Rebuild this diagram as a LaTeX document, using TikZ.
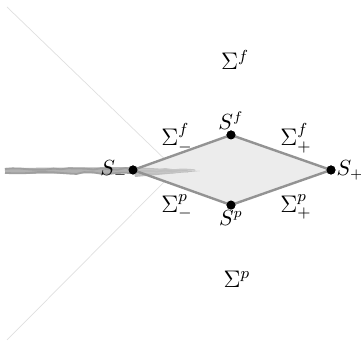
\documentclass[tikz,border=0pt]{standalone}
\usepackage{amsmath,amssymb}
\usetikzlibrary{positioning,decorations.pathmorphing}

\begin{document}
\begin{tikzpicture}[
    x=0.5pt, y=-0.5pt,
    every node/.style={font=\fontsize{10.5}{12}\selectfont, inner sep=1pt},
    dot/.style={circle, fill=black, inner sep=0pt, minimum size=4.5pt},
    lbl/.style={inner sep=0.2pt},
    sig/.style={font=\fontsize{12}{14}\selectfont},
    edge/.style={draw=gray!85, line width=1.2pt},
    ray/.style={draw=gray!25, line width=0.35pt},
    band/.style={draw=gray!75, line width=0.9pt, decorate,
                 decoration={random steps, segment length=4pt, amplitude=0.5pt}}
]
  \useasboundingbox (0,0) rectangle (361,347);

  % guide rays
  \coordinate (rtop) at (7,7);
  \coordinate (rbot) at (7,340);
  \coordinate (cross) at (176,170);
  \draw[ray] (rtop) -- (cross) -- (rbot);

  % corners of the region
  \node[dot] (sm) at (133,170) {};
  \node[dot] (sf) at (231,135) {};
  \node[dot] (sp) at (231,205) {};
  \node[dot] (sq) at (331,170) {};

  \fill[gray!15] (sm.center) -- (sf.center) -- (sq.center) -- (sp.center) -- cycle;

  % grey band along the axis
  \coordinate (bl) at (5,171);
  \coordinate (btip) at (200,171);
  \draw[gray!60, line width=3pt] (bl) -- (sm.center);
  \draw[band] (5,169) -- (130,169);
  \draw[band] (5,173) -- (130,173);
  \fill[gray!50] (sm.center) ++(0,-3) -- (btip) -- ++(-65,6) -- cycle;
  \draw[band, draw=gray!45, line width=0.6pt] (133,169) -- (195,170);
  \draw[band, draw=gray!45, line width=0.6pt] (133,173) -- (188,172);

  \draw[edge] (sm.center) -- (sf.center) -- (sq.center) -- (sp.center) -- cycle;
  \foreach \v in {sm,sf,sp,sq} \node[dot] at (\v) {};

  % labels
  \node[lbl, anchor=east] (lsm) at (sm.west) {$S_-$};
  \node[lbl, anchor=west] (lsq) at (sq.east) {$S_+$};
  \node[lbl, anchor=south] (lsf) at (sf.north) {$S^f$};
  \node[lbl, anchor=north] (lsp) at (sp.south) {$S^p$};

  \node[sig] (sigf) at (235,60) {$\Sigma^f$};
  \node[sig] (sigp) at (237,279) {$\Sigma^p$};
  \node[sig] (sigfm) at (177,138) {$\Sigma^f_-$};
  \node[sig] (sigpm) at (177,207) {$\Sigma^p_-$};
  \node[sig] (sigfp) at (296,138) {$\Sigma^f_+$};
  \node[sig] (sigpp) at (296,207) {$\Sigma^p_+$};
\end{tikzpicture}
\end{document}
